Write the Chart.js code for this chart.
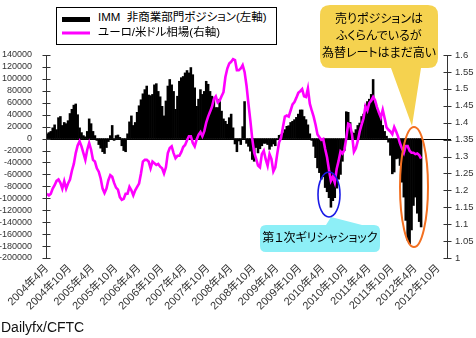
<!DOCTYPE html>
<html>
<head>
<meta charset="utf-8">
<script src="https://cdn.jsdelivr.net/npm/chart.js@4.4.1/dist/chart.umd.min.js"></script>
<style>
  html, body { margin:0; padding:0; background:#fff; }
  #wrap { position:relative; width:476px; height:338px; overflow:hidden; font-family:'Liberation Sans','Noto Sans CJK JP',sans-serif; }
  #c { position:absolute; left:0; top:0; }
  svg { position:absolute; left:0; top:0; }
  .t { position:absolute; white-space:pre; color:#000; font-feature-settings:"palt"; }
  #legend { position:absolute; left:56px; top:7px; width:221px; height:38px; border:1px solid #000; background:#fff; box-sizing:border-box; }
</style>
</head>
<body>
<div id="wrap">
  <canvas id="c" width="476" height="338"></canvas>
  <div id="legend"></div>
  <svg width="476" height="338" viewBox="0 0 476 338">
    <rect x="62" y="17" width="28" height="5" fill="#000"/>
    <rect x="62" y="31.5" width="28" height="3" fill="#FF00FF"/>
    <path d="M330,5 H428 Q438,5 438,15 V58 Q438,68 428,68 H421 L412,126 L391,68 H330 Q320,68 320,58 V15 Q320,5 330,5 Z" fill="#F5D24F"/>
    <path d="M266,225 H326 L331,217 L362,225 H374 Q380,225 380,231 V246 Q380,252 374,252 H266 Q260,252 260,246 V231 Q260,225 266,225 Z" fill="#8DEFF7"/>
    <ellipse cx="414" cy="187" rx="14" ry="60" fill="none" stroke="#F37021" stroke-width="2"/>
    <ellipse cx="329" cy="194.5" rx="11" ry="22.5" fill="none" stroke="#1A1AE6" stroke-width="1.6"/>
  </svg>
  <div class="t" style="left:98px;top:10px;font-size:11.5px;line-height:14px;">IMM  非商業部門ポジション(左軸)</div>
  <div class="t" style="left:98px;top:25px;font-size:11.5px;line-height:14px;">ユーロ/米ドル相場(右軸)</div>
  <div class="t" style="left:320px;top:11px;width:118px;text-align:center;font-size:12px;line-height:17px;">売りポジションは
ふくらんでいるが
為替レートはまだ高い</div>
  <div class="t" style="left:260px;top:231px;width:120px;text-align:center;font-size:12px;line-height:15px;">第１次ギリシャショック</div>
  <div class="t" style="left:1px;top:319px;font-size:14px;line-height:17px;color:#111;">Dailyfx/CFTC</div>
</div>
<script>
// ---- data (half-monthly samples, Apr 2004 – Jun 2012) ----
const tickLabels = ['2004年4月','2004年10月','2005年4月','2005年10月','2006年4月','2006年10月',
  '2007年4月','2007年10月','2008年4月','2008年10月','2009年4月','2009年10月',
  '2010年4月','2010年10月','2011年4月','2011年10月','2012年4月','2012年10月'];

const immPosition = [
  8000,10000,12000,18000,23000,15000,35000,37000,22000,27000,
  25000,30000,42000,49000,56000,58000,40000,18000,10000,5000,
  3000,12000,33000,25000,12000,5000,-3000,-10000,-16000,-22000,
  -25000,-15000,-5000,5000,22000,-3000,5000,6000,2000,-12000,
  -20000,-22000,8000,28000,38000,22000,27000,44000,55000,65000,
  75000,82000,88000,73000,72000,74000,90000,92000,79000,70000,
  54000,38000,63000,88000,99000,90000,79000,49000,71000,96000,
  102000,104000,110000,114000,110000,119000,107000,85000,54000,66000,
  82000,74000,79000,96000,91000,79000,71000,68000,52000,52000,
  66000,46000,33000,29000,24000,35000,41000,18000,-9000,-22000,
  -4000,-10000,20000,62000,-8000,-13000,-21000,-35000,-38000,-15000,
  -24000,-17000,-12000,-8000,-8000,-10000,-18000,-13000,-9000,-12000,
  -2000,5500,6700,9400,15000,20500,21600,27000,29000,31700,
  35500,41000,48000,48000,37000,31700,23000,8000,-3000,-13000,
  -32000,-49000,-57000,-68000,-64000,-82000,-89000,-99000,-115000,-104000,
  -99000,-83000,-68000,-60000,-38000,-20000,45000,44000,27000,11000,
  9000,15000,22000,26000,37000,41000,56000,62000,66000,74000,
  99000,60000,49000,41000,36000,22000,12000,4000,-6000,-28000,
  -59000,-56000,-34000,-33000,-45000,-73000,-98000,-137000,-170000,-176000,
  -153000,-112000,-98000,-125000,-139000,-148000
];

const eurUsd = [
  1.19,1.185,1.19,1.205,1.215,1.228,1.232,1.222,1.205,1.227,
  1.205,1.22,1.232,1.258,1.278,1.31,1.333,1.345,1.33,1.31,
  1.29,1.32,1.34,1.32,1.29,1.285,1.265,1.255,1.235,1.205,
  1.192,1.205,1.23,1.245,1.24,1.222,1.208,1.202,1.18,1.172,
  1.175,1.19,1.19,1.21,1.2,1.185,1.2,1.21,1.22,1.25,
  1.285,1.29,1.29,1.285,1.265,1.285,1.28,1.275,1.278,1.27,
  1.265,1.25,1.268,1.31,1.325,1.33,1.31,1.295,1.302,1.302,
  1.313,1.328,1.334,1.348,1.36,1.36,1.34,1.33,1.35,1.364,
  1.372,1.36,1.375,1.4,1.418,1.432,1.447,1.47,1.478,1.46,
  1.465,1.478,1.49,1.535,1.56,1.575,1.58,1.588,1.585,1.555,
  1.555,1.56,1.57,1.55,1.51,1.456,1.407,1.352,1.312,1.294,
  1.273,1.268,1.307,1.317,1.292,1.273,1.307,1.292,1.256,1.268,
  1.307,1.342,1.355,1.387,1.418,1.421,1.418,1.436,1.454,1.461,
  1.474,1.488,1.493,1.499,1.478,1.476,1.501,1.456,1.436,1.418,
  1.394,1.365,1.357,1.349,1.352,1.322,1.297,1.26,1.228,1.24,
  1.223,1.263,1.287,1.315,1.309,1.319,1.354,1.397,1.394,1.364,
  1.314,1.324,1.346,1.374,1.394,1.413,1.448,1.436,1.458,1.465,
  1.476,1.466,1.446,1.43,1.416,1.438,1.413,1.386,1.379,1.374,
  1.366,1.387,1.374,1.359,1.339,1.324,1.311,1.331,1.331,1.317,
  1.311,1.311,1.307,1.309,1.304,1.294
];

const seriesNames = ['IMM  非商業部門ポジション(左軸)', 'ユーロ/米ドル相場(右軸)'];

// category axis: half-month slots; every 12th slot carries a tick label
const SLOTS = 209;
const categories = Array.from({length: SLOTS}, (_, i) => (i % 12 === 0 && tickLabels[i / 12]) ? tickLabels[i / 12] : '');

const FONT = "'Liberation Sans','Noto Sans CJK JP',sans-serif";
const AX = '#333';

const axisPlugin = {
  id: 'axisPlugin',
  beforeDatasetsDraw(chart) {
    const c = chart.ctx, y = chart.scales.y, a = chart.chartArea;
    const zy = Math.round(y.getPixelForValue(0)) + 0.5;
    c.save();
    c.strokeStyle = '#000'; c.lineWidth = 1;
    c.beginPath(); c.moveTo(a.left, zy); c.lineTo(a.right + 4, zy); c.stroke();
    c.restore();
  },
  afterDraw(chart) {
    const c = chart.ctx, y = chart.scales.y, y1 = chart.scales.y1, a = chart.chartArea;
    c.save();
    c.strokeStyle = AX; c.lineWidth = 1;
    const lx = Math.round(a.left) + 0.5, rx = Math.round(a.right) + 0.5;
    c.beginPath(); c.moveTo(lx, Math.round(a.top)); c.lineTo(lx, Math.round(a.bottom) + 1); c.stroke();
    c.beginPath(); c.moveTo(rx, Math.round(a.top)); c.lineTo(rx, Math.round(a.bottom) + 1); c.stroke();
    y.ticks.forEach(t => {
      const py = Math.round(y.getPixelForValue(t.value)) + 0.5;
      c.beginPath(); c.moveTo(lx - 4, py); c.lineTo(lx + 4, py); c.stroke();
    });
    y1.ticks.forEach(t => {
      const py = Math.round(y1.getPixelForValue(t.value)) + 0.5;
      c.beginPath(); c.moveTo(rx - 4, py); c.lineTo(rx + 4, py); c.stroke();
    });
    c.restore();
  }
};

new Chart(document.getElementById('c'), {
  data: {
    labels: categories,
    datasets: [
      { type: 'line', label: seriesNames[1], data: eurUsd, yAxisID: 'y1',
        borderColor: '#FF00FF', borderWidth: 2.6, pointRadius: 0, tension: 0, order: 0 },
      { type: 'bar', label: seriesNames[0], data: immPosition, yAxisID: 'y',
        backgroundColor: '#000', borderWidth: 0, categoryPercentage: 1, barPercentage: 1, order: 1 }
    ]
  },
  options: {
    responsive: false,
    animation: false,
    devicePixelRatio: 1,
    layout: { padding: { top: 55, left: 0, right: 0, bottom: 0 } },
    plugins: { legend: { display: false }, tooltip: { enabled: false } },
    scales: {
      x: {
        type: 'category',
        grid: { display: false, drawTicks: false },
        border: { display: false },
        ticks: { autoSkip: false, maxRotation: 45, minRotation: 45, padding: 4,
          color: AX, font: { size: 11, family: FONT },
          callback: (v, i) => categories[i] },
        afterFit: s => { s.height = 80; }
      },
      y: {
        position: 'left', min: -200000, max: 140000,
        grid: { display: false, drawTicks: false },
        border: { display: false },
        ticks: { stepSize: 20000, autoSkip: false, padding: 14, color: AX, font: { size: 9, family: FONT },
          callback: v => String(Math.round(v)) },
        afterFit: s => { s.width = 46; }
      },
      y1: {
        position: 'right', min: 1, max: 1.6,
        grid: { display: false, drawTicks: false },
        border: { display: false },
        ticks: { stepSize: 0.05, autoSkip: false, padding: 8, color: AX, font: { size: 9.5, family: FONT },
          callback: v => String(Math.round(v * 100) / 100) },
        afterFit: s => { s.width = 29; }
      }
    }
  },
  plugins: [axisPlugin]
});
</script>
</body>
</html>
